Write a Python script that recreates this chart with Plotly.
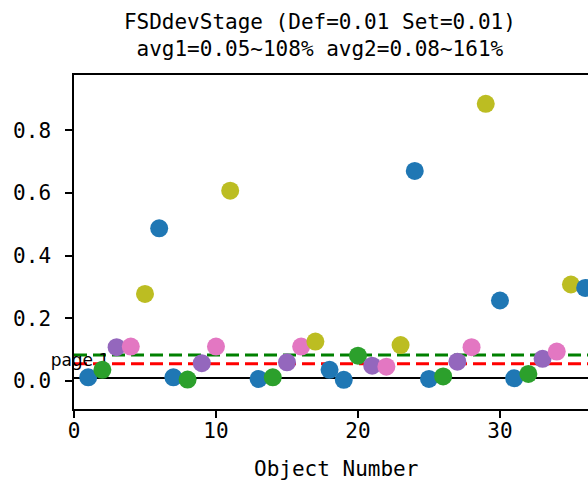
import plotly.graph_objects as go

# ---- data ----
object_number = [1, 2, 3, 4, 5, 6, 7, 8, 9, 10, 11, 13, 14, 15, 16, 17, 18, 19,
                 20, 21, 22, 23, 24, 25, 26, 27, 28, 29, 30, 31, 32, 33, 34, 35, 36]
fsd_value = [0.012, 0.036, 0.108, 0.110, 0.278, 0.487, 0.012, 0.005, 0.057, 0.110,
             0.607, 0.007, 0.012, 0.060, 0.110, 0.126, 0.036, 0.004, 0.081, 0.049,
             0.046, 0.115, 0.670, 0.007, 0.015, 0.062, 0.108, 0.884, 0.257, 0.009,
             0.023, 0.071, 0.094, 0.308, 0.297]
stage = ["A", "B", "C", "D", "E", "A", "A", "B", "C", "D", "E", "A", "B", "C", "D",
         "E", "A", "A", "B", "C", "D", "E", "A", "A", "B", "C", "D", "E", "A", "A",
         "B", "C", "D", "E", "A"]
stage_colors = {"A": "#1f77b4", "B": "#2ca02c", "C": "#9467bd", "D": "#e377c2", "E": "#bcbd22"}

def_value = 0.01
avg1 = 0.055
avg2 = 0.0835

x_ticks = [0, 10, 20, 30]
y_ticks = [0.0, 0.2, 0.4, 0.6, 0.8]
x_range = [0, 36.2]
y_range = [-0.089, 0.976]

title_lines = ["FSDdevStage (Def=0.01 Set=0.01)", "avg1=0.05~108% avg2=0.08~161%"]
x_label = "Object Number"
page_text = "page 1"

FONT = "DejaVu Sans Mono"

fig = go.Figure()

# page label (drawn under markers)
fig.add_trace(go.Scatter(
    x=[0.42], y=[0.062], mode="text", text=[page_text],
    textfont=dict(family="DejaVu Sans", size=17, color="black"),
    textposition="middle center", cliponaxis=False, hoverinfo="skip", showlegend=False))

fig.add_trace(go.Scatter(
    x=object_number, y=fsd_value, mode="markers",
    marker=dict(size=18, color=[stage_colors[s] for s in stage], line=dict(width=0)),
    showlegend=False))

# horizontal reference lines
fig.add_shape(type="line", xref="x", yref="y", x0=x_range[0], x1=x_range[1],
              y0=def_value, y1=def_value, line=dict(color="black", width=2), layer="below")
fig.add_shape(type="line", xref="x", yref="y", x0=x_range[0], x1=x_range[1],
              y0=avg1, y1=avg1, line=dict(color="red", width=3, dash="13px,6px"), layer="below")
fig.add_shape(type="line", xref="x", yref="y", x0=x_range[0], x1=x_range[1],
              y0=avg2, y1=avg2, line=dict(color="green", width=3, dash="13px,6px"), layer="below")

fig.add_annotation(text=x_label, xref="paper", yref="paper", x=0.51, y=-0.18,
                   xanchor="center", yanchor="middle", showarrow=False,
                   font=dict(family=FONT, size=21, color="black"))

fig.update_layout(
    width=588, height=484,
    margin=dict(l=74, r=0, t=75, b=75),
    paper_bgcolor="white", plot_bgcolor="white",
    font=dict(family=FONT, size=21, color="black"),
    title=dict(text="<br>".join(title_lines), x=0.544, xanchor="center",
               y=0.941, yanchor="middle", font=dict(family=FONT, size=21)),
    xaxis=dict(range=x_range, tickvals=x_ticks, showgrid=False, zeroline=False,
               showline=True, linecolor="black", linewidth=1.5, mirror=True,
               ticks="outside", ticklen=7, tickwidth=1.5, tickcolor="black",
               ticklabelstandoff=-5),
    yaxis=dict(range=y_range, tickvals=y_ticks, tickformat=".1f", showgrid=False,
               zeroline=False, showline=True, linecolor="black", linewidth=1.5,
               ticks="outside", ticklen=7, tickwidth=1.5, tickcolor="black",
               ticklabelstandoff=10),
)

fig.write_html("out.html", config={"displayModeBar": False},
               post_script="document.body.style.margin='0';document.body.style.overflow='hidden';")
